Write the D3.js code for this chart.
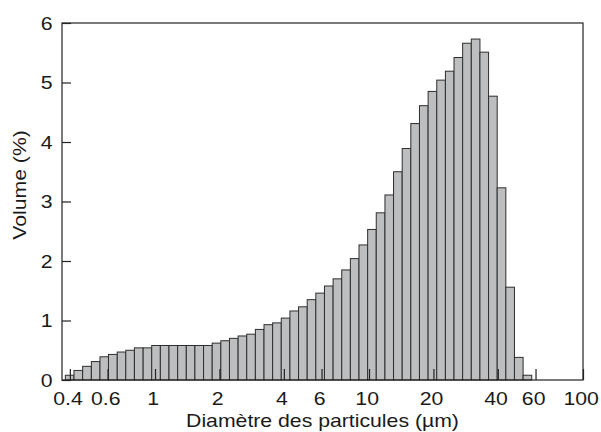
<!DOCTYPE html>
<html>
<head>
<meta charset="utf-8">
<script src="https://cdn.jsdelivr.net/npm/d3@7"></script>
<style>
  body { margin: 0; background: #fff; }
  svg text { font-family: "Liberation Sans", Arial, Helvetica, sans-serif; fill: #1a1a1a; }
</style>
</head>
<body>
<script>
// set the dimensions and margins of the graph
var margin = { top: 23, right: 18, bottom: 52, left: 62 },
    width = 601 - margin.left - margin.right,
    height = 380 - margin.top;

// bin edges of the size classes (µm)
var binEdges = [0.381, 0.418, 0.459, 0.504, 0.553, 0.606, 0.666, 0.730, 0.801, 0.880,
    0.965, 1.059, 1.162, 1.276, 1.400, 1.536, 1.686, 1.850, 2.030, 2.228,
    2.445, 2.683, 2.944, 3.231, 3.545, 3.890, 4.270, 4.685, 5.142, 5.642,
    6.192, 6.795, 7.456, 8.183, 8.979, 9.854, 10.81, 11.87, 13.02, 14.29,
    15.68, 17.21, 18.89, 20.73, 22.75, 24.96, 27.39, 30.06, 32.99, 36.20,
    39.72, 43.59, 47.83, 52.49, 57.60];

// volume (%) in each class
var volume = [0.08, 0.16, 0.23, 0.31, 0.39, 0.43, 0.47, 0.50, 0.54, 0.54,
    0.58, 0.58, 0.58, 0.58, 0.58, 0.58, 0.58, 0.62, 0.66, 0.70,
    0.74, 0.77, 0.85, 0.93, 0.96, 1.04, 1.16, 1.23, 1.35, 1.46,
    1.58, 1.70, 1.85, 2.04, 2.27, 2.53, 2.81, 3.11, 3.50, 3.89,
    4.31, 4.61, 4.85, 5.04, 5.19, 5.42, 5.66, 5.73, 5.51, 4.77,
    3.23, 1.56, 0.38, 0.08];

var xTicks = [0.4, 0.6, 1, 2, 4, 6, 10, 20, 40, 60, 100];
var yTicks = [0, 1, 2, 3, 4, 5, 6];

var bins = volume.map(function (v, i) {
    return { lo: binEdges[i], hi: binEdges[i + 1], v: v };
});

var x = d3.scaleLog().domain([0.3675, 100]).range([0, width]);
var y = d3.scaleLinear().domain([0, 6]).range([height, 0]);

var svg = d3.select("body").append("svg")
    .attr("width", 601)
    .attr("height", 432)
    .append("g")
    .attr("transform", "translate(" + margin.left + "," + margin.top + ")");

// bars
svg.selectAll(".bar")
    .data(bins)
    .enter().append("rect")
    .attr("class", "bar")
    .attr("x", (d) => x(d.lo))
    .attr("width", (d) => x(d.hi) - x(d.lo))
    .attr("y", (d) => y(d.v))
    .attr("height", (d) => height - y(d.v))
    .attr("fill", "#bdbec0")
    .attr("stroke", "#2e2e2e")
    .attr("stroke-width", 1);

// frame
svg.append("rect")
    .attr("width", width)
    .attr("height", height)
    .attr("fill", "none")
    .attr("stroke", "#222")
    .attr("stroke-width", 1.2);

var stretch = "scale(1.18,1)";

// x axis, ticks pointing inward
var xAxis = svg.append("g")
    .attr("transform", "translate(0," + height + ")")
    .call(d3.axisBottom(x).tickValues(xTicks).tickFormat(d3.format("~g"))
        .tickSizeInner(-11).tickSizeOuter(0).tickPadding(0));
xAxis.select(".domain").remove();
xAxis.selectAll(".tick line").attr("stroke", "#222").attr("stroke-width", 1.2);
xAxis.selectAll(".tick text")
    .attr("y", 25).attr("dy", 0).attr("x", -2)
    .attr("transform", stretch)
    .style("font-size", "18px")
    .attr("fill", "#1a1a1a");

// y axis, ticks pointing inward
var yAxis = svg.append("g")
    .call(d3.axisLeft(y).tickValues(yTicks).tickFormat(d3.format("d"))
        .tickSizeInner(-9).tickSizeOuter(0).tickPadding(0));
yAxis.select(".domain").remove();
yAxis.selectAll(".tick line").attr("stroke", "#222").attr("stroke-width", 1.2);
yAxis.selectAll(".tick text")
    .attr("x", -8).attr("dy", "0.35em")
    .attr("transform", stretch)
    .style("font-size", "18px")
    .attr("fill", "#1a1a1a");

// axis titles
svg.append("text")
    .attr("transform", "translate(" + (width / 2) + "," + (427 - margin.top) + ") " + stretch)
    .attr("text-anchor", "middle")
    .style("font-size", "18px")
    .text("Diamètre des particules (µm)");

svg.append("text")
    .attr("transform", "translate(" + (26 - margin.left) + "," + (185 - margin.top) + ") rotate(-90) " + stretch)
    .attr("text-anchor", "middle")
    .style("font-size", "18px")
    .text("Volume (%)");
</script>
</body>
</html>
